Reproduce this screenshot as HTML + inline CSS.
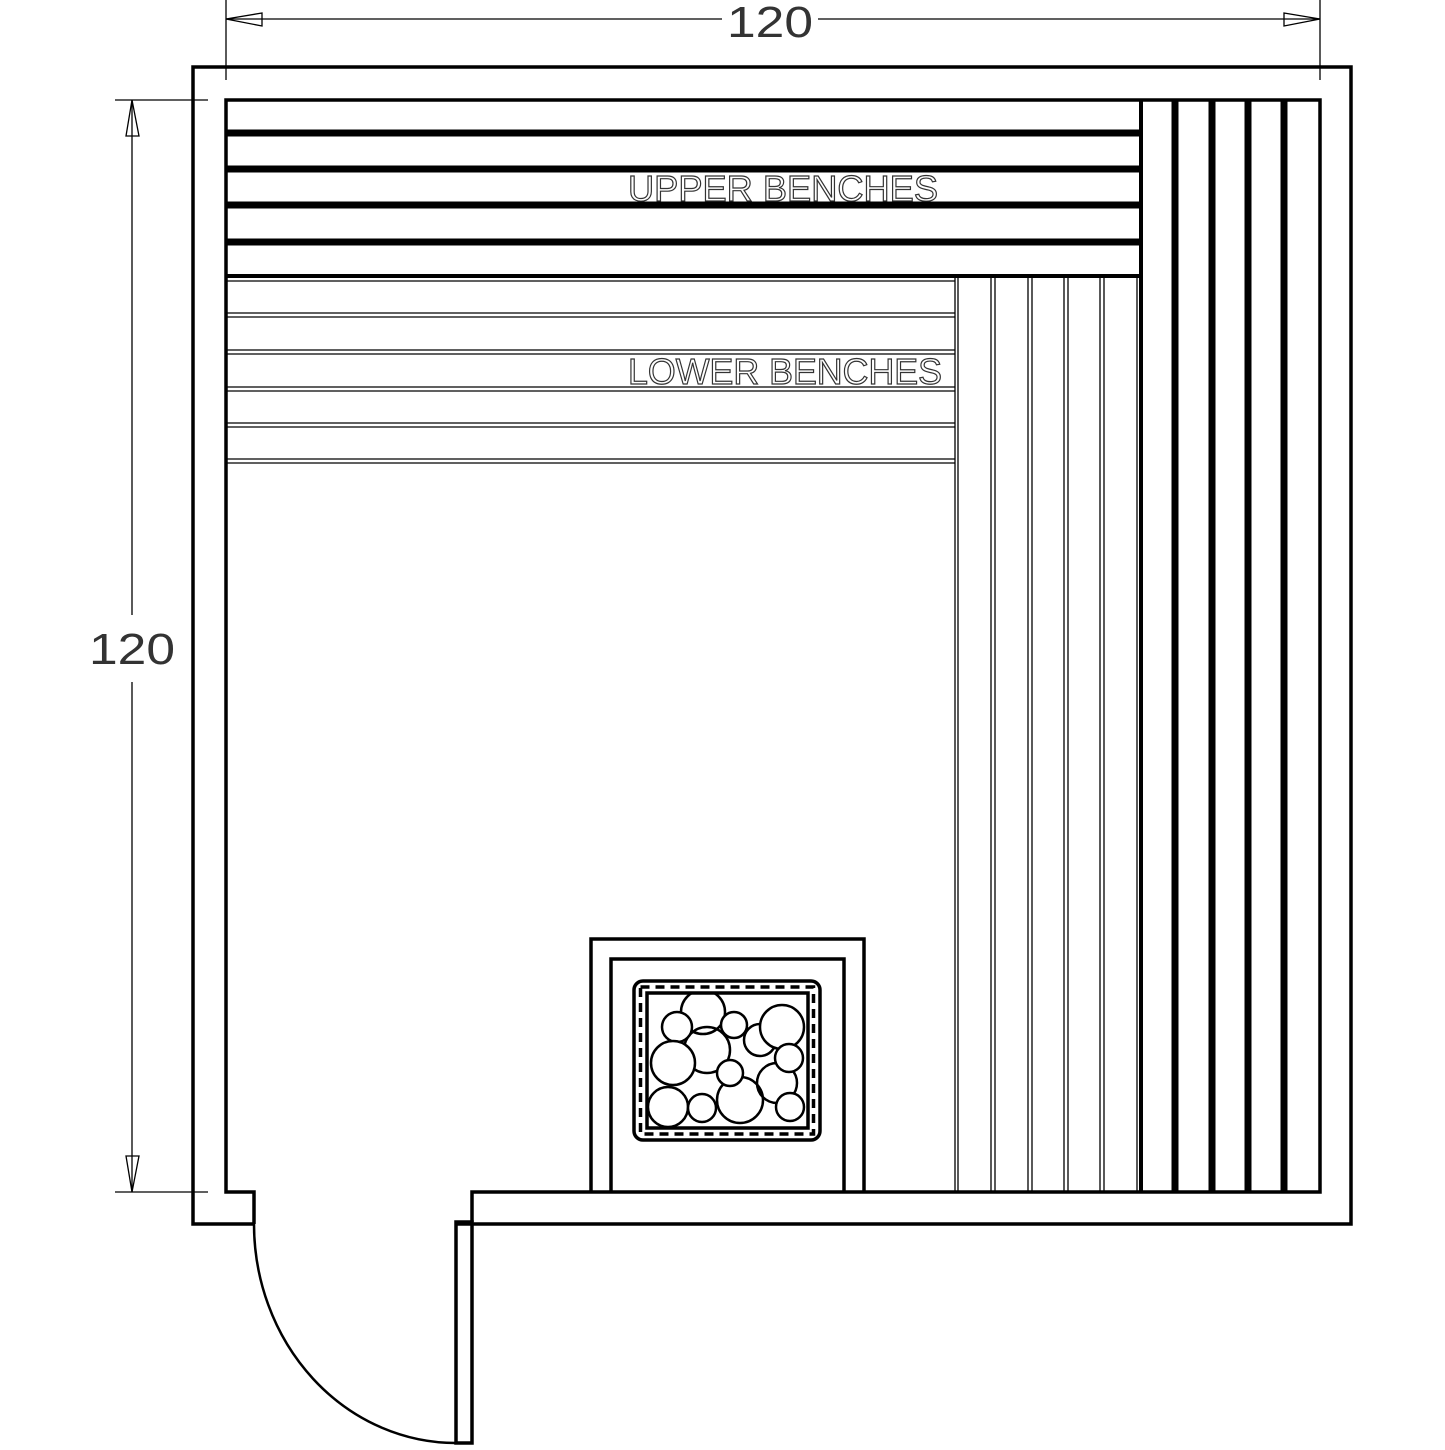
<!DOCTYPE html>
<html><head><meta charset="utf-8"><style>html,body{margin:0;padding:0;background:#fff}</style></head>
<body>
<svg width="1445" height="1445" viewBox="0 0 1445 1445" xmlns="http://www.w3.org/2000/svg" fill="none" stroke="#000">
<!-- dimension lines -->
<g stroke-width="1.3">
<line x1="226" y1="0" x2="226" y2="80"/><line x1="1320" y1="0" x2="1320" y2="80"/>
<line x1="226" y1="19" x2="722" y2="19"/><line x1="818" y1="19" x2="1320" y2="19"/>
<polygon points="226,19 262,13 262,26"/><polygon points="1320,19 1284,13 1284,26"/>
<line x1="115" y1="100" x2="208" y2="100"/><line x1="115" y1="1192" x2="208" y2="1192"/>
<line x1="132" y1="100" x2="132" y2="615"/><line x1="132" y1="682" x2="132" y2="1192"/>
<polygon points="132,100 126,136 139,136"/><polygon points="132,1192 126,1156 139,1156"/>
</g>
<g font-family="Liberation Sans, sans-serif" fill="#333" stroke="none">
<text x="770" y="37" font-size="44" text-anchor="middle" textLength="86" lengthAdjust="spacingAndGlyphs">120</text>
<text x="132" y="664" font-size="44" text-anchor="middle" textLength="86" lengthAdjust="spacingAndGlyphs">120</text>
<text x="628" y="201" font-size="36" textLength="310" lengthAdjust="spacingAndGlyphs" fill="#fff" stroke="#333" stroke-width="1.2">UPPER BENCHES</text>
<text x="628" y="384" font-size="36" textLength="314" lengthAdjust="spacingAndGlyphs" fill="#fff" stroke="#333" stroke-width="1.2">LOWER BENCHES</text>
</g>
<!-- walls -->
<g stroke-width="3.5">
<polyline points="254,1224 193,1224 193,67 1351,67 1351,1224 456,1224"/>
<polyline points="254,1224 254,1192 226,1192 226,100 1320,100 1320,1192 472,1192 472,1222"/>
<rect x="456" y="1222" width="16" height="221"/>
</g>
<path d="M254,1224 A202,219 0 0 0 456,1443" stroke-width="2.5"/>
<!-- upper benches -->
<g stroke-width="7">
<line x1="226" y1="133" x2="1140" y2="133"/><line x1="226" y1="169" x2="1140" y2="169"/>
<line x1="226" y1="205" x2="1140" y2="205"/><line x1="226" y1="242" x2="1140" y2="242"/>
<line x1="1175" y1="100" x2="1175" y2="1192"/><line x1="1212" y1="100" x2="1212" y2="1192"/>
<line x1="1248" y1="100" x2="1248" y2="1192"/><line x1="1284" y1="100" x2="1284" y2="1192"/>
</g>
<g stroke-width="4">
<line x1="226" y1="276" x2="1142" y2="276"/><line x1="1141" y1="100" x2="1141" y2="1192"/>
</g>
<!-- lower benches -->
<g stroke-width="1.3">
<line x1="226" y1="281" x2="955" y2="281"/>
<line x1="226" y1="313" x2="955" y2="313"/><line x1="226" y1="317" x2="955" y2="317"/>
<line x1="226" y1="350" x2="955" y2="350"/><line x1="226" y1="354" x2="955" y2="354"/>
<line x1="226" y1="387" x2="955" y2="387"/><line x1="226" y1="391" x2="955" y2="391"/>
<line x1="226" y1="423" x2="955" y2="423"/><line x1="226" y1="427" x2="955" y2="427"/>
<line x1="226" y1="459" x2="955" y2="459"/><line x1="226" y1="463" x2="955" y2="463"/>
<line x1="955" y1="278" x2="955" y2="1192"/><line x1="958" y1="278" x2="958" y2="1192"/>
<line x1="991" y1="278" x2="991" y2="1192"/><line x1="995" y1="278" x2="995" y2="1192"/>
<line x1="1028" y1="278" x2="1028" y2="1192"/><line x1="1032" y1="278" x2="1032" y2="1192"/>
<line x1="1064" y1="278" x2="1064" y2="1192"/><line x1="1068" y1="278" x2="1068" y2="1192"/>
<line x1="1100" y1="278" x2="1100" y2="1192"/><line x1="1104" y1="278" x2="1104" y2="1192"/>
<line x1="1137" y1="278" x2="1137" y2="1192"/>
</g>
<!-- heater -->
<g stroke-width="3.5">
<polyline points="591,1192 591,939 864,939 864,1192"/>
<polyline points="611,1192 611,959 844,959 844,1192"/>
<rect x="634" y="981" width="186" height="159" rx="9"/>
<rect x="647" y="993" width="161" height="135"/>
<rect x="640.5" y="987" width="173" height="147" stroke-dasharray="9 6"/>
</g>
<clipPath id="c"><rect x="648" y="994" width="159" height="133"/></clipPath>
<g stroke-width="2.5" clip-path="url(#c)">
<circle cx="703" cy="1012" r="22"/><circle cx="707" cy="1050" r="23"/>
<circle cx="668" cy="1107" r="20"/><circle cx="740" cy="1100" r="23"/>
<circle cx="777" cy="1083" r="20"/><circle cx="760" cy="1040" r="16"/>
<circle cx="677" cy="1027" r="15" fill="#fff"/><circle cx="734" cy="1025" r="13" fill="#fff"/>
<circle cx="782" cy="1027" r="22" fill="#fff"/><circle cx="673" cy="1063" r="22" fill="#fff"/>
<circle cx="789" cy="1058" r="14" fill="#fff"/><circle cx="730" cy="1073" r="13" fill="#fff"/>
<circle cx="702" cy="1108" r="14" fill="#fff"/><circle cx="790" cy="1107" r="14" fill="#fff"/>
</g>
</svg>
</body></html>
